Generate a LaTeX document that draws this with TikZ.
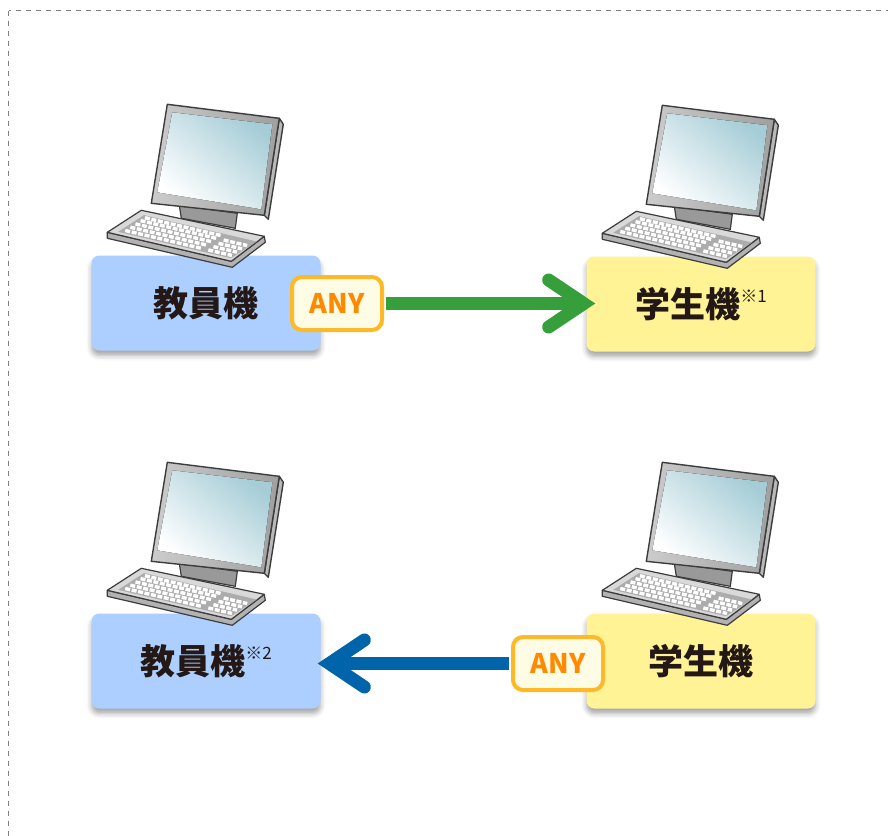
\documentclass[tikz,border=0pt]{standalone}
\usepackage{fontspec}
\newfontfamily\jpfont{Noto Sans CJK JP}
\usetikzlibrary{arrows.meta,shadows.blur}

\definecolor{teachblue}{HTML}{ADCFFF}
\definecolor{studyellow}{HTML}{FFF396}
\definecolor{inkblack}{HTML}{231815}
\definecolor{anyborder}{HTML}{FDB927}
\definecolor{anyfill}{HTML}{FFFCE6}
\definecolor{anytext}{HTML}{FF8A00}
\definecolor{arrowgreen}{HTML}{369E3A}
\definecolor{arrowblue}{HTML}{0064AA}
\definecolor{monline}{HTML}{3C3C3C}
\definecolor{screenteal}{HTML}{A6CDD6}
\definecolor{framegray}{HTML}{808080}

\newcommand{\kome}[1]{\raisebox{15pt}[0pt][0pt]{\mdseries\fontsize{17pt}{17pt}\selectfont ※#1}}

\tikzset{
  keyrow/.style={draw=white, line width=3.4pt, dash pattern=on 5pt off 1.6pt},
  computer/.pic={
    % stand
    \draw[monline, line width=1.2pt, fill=gray!80] (88,-50) -- (146,-42) -- (144,-27) -- (90,-37) -- cycle;
    % monitor
    \draw[monline, line width=1.4pt, line join=round, fill=gray!55] (188,-137) -- (192,-131) -- (177,-36) -- (173,-40) -- cycle;
    \draw[monline, line width=1.4pt, line join=round, left color=gray!40, right color=gray!75] (76,-151) -- (188,-137) -- (173,-40) -- (60,-52) -- cycle;
    \fill[shading=axis, top color=screenteal, bottom color=white, shading angle=-40] (81,-143) -- (181,-131) -- (170,-46) -- (66,-63) -- cycle;
    % keyboard
    \draw[monline, line width=1.2pt, line join=round, fill=gray!60] (16,-23) -- (140,6) -- (173,-19) -- (174,-13) -- (141,12) -- (16,-17) -- cycle;
    \draw[monline, line width=1.2pt, line join=round, fill=gray!30] (50,-45) -- (173,-19) -- (140,6) -- (16,-23) -- cycle;
    \begin{scope}[shift={(16,-23)}, x={(124pt,-29pt)}, y={(34pt,22pt)}]
      \fill[gray!65] (0.06,0.1) -- (0.97,0.1) -- (0.97,0.86) -- (0.06,0.86) -- cycle;
      \foreach \r in {0.2,0.35,0.5,0.65,0.78}
        \draw[keyrow] (0.09,\r) -- (0.7,\r);
      \foreach \r in {0.2,0.35,0.5,0.65}
        \draw[keyrow] (0.76,\r) -- (0.95,\r);
    \end{scope}
  }
}

\begin{document}
\begin{tikzpicture}[x=1pt, y=-1pt,
    pcbox/.style={rounded corners=8pt, minimum width=229pt, minimum height=95pt, inner sep=0pt,
      blur shadow={shadow xshift=0pt, shadow yshift=-5pt, shadow blur radius=5pt, shadow opacity=35},
      text=inkblack, font=\jpfont\bfseries\fontsize{35pt}{35pt}\selectfont},
    teacher/.style={pcbox, fill=teachblue},
    student/.style={pcbox, fill=studyellow},
    anytag/.style={draw=anyborder, line width=4pt, fill=anyfill, rounded corners=10pt,
      minimum width=90pt, minimum height=53pt, inner sep=0pt, text=anytext,
      font=\jpfont\bfseries\fontsize{27pt}{27pt}\selectfont},
    flow/.style={line width=13pt, shorten <=2pt,
      -{Straight Barb[length=35pt, width=47pt, line cap=round, line join=miter]}},
  ]
    \useasboundingbox (0,0) rectangle (888,835);
    \clip (0,0) rectangle (888,835);
    \draw[framegray, line width=1pt, dash pattern=on 5pt off 5pt] (8.5,10.5) rectangle (950,900);

    \node[teacher] (teach1) at (206,303) {教員機};
    \node[student] (stud1) at (701,304) {学生機\kome{1}};
    \node[teacher] (teach2) at (206,661) {教員機\kome{2}};
    \node[student] (stud2) at (701,661) {学生機};

    \pic at (teach1.north west) {computer};
    \pic at (stud1.north west) {computer};
    \pic at (teach2.north west) {computer};
    \pic at (stud2.north west) {computer};

    \node[anytag] (anyA) at (337,303.5) {ANY};
    \node[anytag] (anyB) at (558,663.5) {ANY};

    %%%%%%%%%%%%%%%%%%%%%%%%%%%%%%%%%%%%%%%%

    \draw[flow, arrowgreen, shorten >=-9pt] (anyA.east) -- (stud1.west |- anyA.east);
    \draw[flow, arrowblue, shorten >=-3pt] (anyB.west) -- (teach2.east |- anyB.west);

\end{tikzpicture}
\end{document}
